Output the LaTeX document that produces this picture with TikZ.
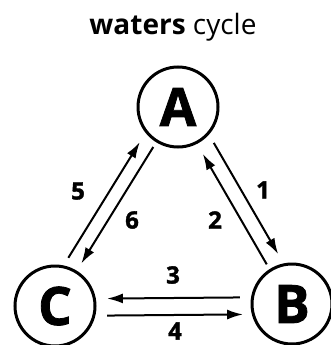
\documentclass[tikz,border=0pt]{standalone}
\usepackage{fontspec}
\setmainfont{Open Sans}
\newfontfamily\heavyfont{Open Sans}[BoldFeatures={FakeBold=1.5}]
\usetikzlibrary{arrows.meta,calc,positioning}

\begin{document}
\begin{tikzpicture}[x=1pt,y=1pt]

\tikzstyle{state}=[draw,circle,line width=3pt,minimum size=80pt,inner sep=0pt,font=\fontsize{53}{53}\heavyfont\bfseries]
\tikzstyle{flow}=[line width=2pt,-{Latex[length=16pt,width=10pt]}]
\tikzstyle{num}=[font=\fontsize{24}{24}\heavyfont\bfseries]

\useasboundingbox (0,0) rectangle (330,-345);

% TITLE
\node[font=\fontsize{28}{28}\selectfont](title) at (173,-27){\textbf{waters} cycle};

% NODES
\node[state](A) at (178,-107){A};
\node[state](B) at (292,-304){B};
\node[state](C) at (55,-306){C};

% ARROWS
% A <-> B
\draw[flow,shorten <=49pt,shorten >=50pt]($(A)!13pt!90:(B)$) -- ($(B)!13pt!-90:(A)$);
\draw[flow,shorten <=47pt,shorten >=53pt]($(B)!2pt!90:(A)$) -- ($(A)!2pt!-90:(B)$);

% C <-> A
\draw[flow,shorten <=48pt,shorten >=50pt]($(C)!14pt!90:(A)$) -- ($(A)!14pt!-90:(C)$);
\draw[flow,shorten <=47pt,shorten >=50pt]($(A)!0pt!90:(C)$) -- ($(C)!0pt!-90:(A)$);

% B <-> C
\draw[flow,shorten <=52pt,shorten >=52pt]($(B)!7pt!-90:(C)$) -- ($(C)!7pt!90:(B)$);
\draw[flow,shorten <=52pt,shorten >=49pt]($(C)!10pt!-90:(B)$) -- ($(B)!10pt!90:(C)$);

% LABELS
\node[num](n1) at (263,-190){1};
\node[num](n2) at (215,-220){2};
\node[num](n3) at (173,-275){3};
\node[num](n4) at (175,-331){4};
\node[num](n5) at (78,-191){5};
\node[num](n6) at (132,-220){6};

\end{tikzpicture}
\end{document}
